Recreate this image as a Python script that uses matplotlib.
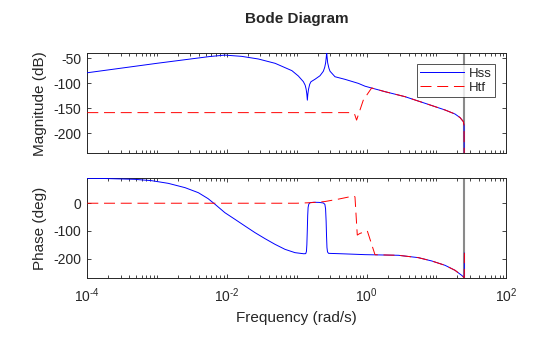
import matplotlib
matplotlib.use("Agg")
import matplotlib.pyplot as plt
from matplotlib.lines import Line2D
from matplotlib.ticker import FixedLocator, LogLocator, NullFormatter, FixedFormatter

plt.rcParams['font.family'] = ['Liberation Sans', 'DejaVu Sans']
plt.rcParams['mathtext.fontset'] = 'custom'
plt.rcParams['mathtext.rm'] = 'Liberation Sans'
plt.rcParams['mathtext.it'] = 'Liberation Sans:italic'
plt.rcParams['mathtext.bf'] = 'Liberation Sans:bold'
plt.rcParams['axes.unicode_minus'] = False

# ---- data (frequency in rad/s) ----
hss_mag_w = [1e-4, 3.162e-4, 1e-3, 3.162e-3, 5.623e-3, 9.333e-3, 1.622e-2, 2.818e-2,
             4.898e-2, 8.511e-2, 0.1052, 0.1242, 0.1318, 0.1361, 0.1393, 0.1416,
             0.1439, 0.1472, 0.1531, 0.1596, 0.1824, 0.2148, 0.2399, 0.2512, 0.2588,
             0.2642, 0.2679, 0.2716, 0.2767, 0.2884, 0.2992, 0.3524, 0.4898, 0.7603,
             0.9484, 1.837, 3.548, 6.871, 13.27, 18.45, 21.78, 24.27, 24.83, 25.13]
hss_mag_db = [-79, -69.5, -60, -51, -46.5, -43.6, -46.1, -51.4,
              -60.1, -74.8, -85.5, -96.9, -104, -112, -122, -134,
              -122, -112, -102, -97, -92, -85, -76, -68, -59,
              -48, -38, -48, -59, -70, -76, -87, -92.2, -100.3,
              -106, -117, -127, -140.3, -153.7, -161.8, -169, -177, -185, -320]

hss_ph_w = [1e-4, 1.778e-4, 4.786e-4, 8.318e-4, 1.445e-3, 2.512e-3, 3.890e-3, 5.370e-3,
            6.761e-3, 9.333e-3, 1.303e-2, 1.811e-2, 2.523e-2, 3.508e-2, 4.875e-2,
            6.776e-2, 9.419e-2, 0.1259, 0.1343, 0.1374, 0.1393, 0.1413, 0.1432, 0.1452,
            0.1486, 0.1549, 0.1738, 0.2089, 0.2399, 0.2523, 0.2582, 0.2630, 0.2667,
            0.2704, 0.2754, 0.2851, 0.4365, 0.9484, 2.844, 5.495, 8.551, 13.27, 18.45,
            22.96, 25.0, 25.13]
hss_ph_deg = [89.8, 89.3, 86.3, 81.5, 71.8, 56.2, 38.1, 16.5,
              -4.0, -34.1, -58.2, -82.3, -106.3, -128.0, -148.4,
              -166.5, -178.5, -182.5, -182, -174, -150, -100, -45, -15,
              -3, 2, 3.5, 3, 1, -4, -20, -65, -120,
              -160, -176, -181, -182.5, -185.7, -188, -196.5, -208.5, -224.2, -242.3,
              -260.4, -269, -180]

htf_mag_w = [1e-4, 0.6109, 0.6761, 0.7178, 0.8954, 1.072, 1.180, 1.837, 3.548,
             6.871, 13.27, 18.45, 21.78, 24.27, 24.83, 25.13]
htf_mag_db = [-159, -159, -163, -174, -134, -118, -109.5, -117, -127,
              -140.3, -153.7, -161.8, -169, -177, -185, -320]

htf_ph_w = [1e-4, 0.1, 0.1585, 0.2512, 0.3981, 0.6457, 0.6808, 0.7345, 0.8035,
            1.023, 1.318, 2.844, 5.495, 8.551, 13.27, 18.45, 22.96, 25.0, 25.13]
htf_ph_deg = [0, 0, 2, 6, 15, 26, 23, -115, -109,
              -100, -186, -188, -196.5, -208.5, -224.2, -242.3, -260.4, -269, -180]

nyquist_w = 25.13
xticks = [1e-4, 1e-2, 1e0, 1e2]
xticklabels = [r'$\mathdefault{10^{\text{-4}}}$', r'$\mathdefault{10^{\text{-2}}}$',
               r'$\mathdefault{10^{0}}$', r'$\mathdefault{10^{2}}$']
mag_ticks = [-200, -150, -100, -50]
ph_ticks = [-200, -100, 0]

TXT = '#262626'
BLUE = '#0000ff'
RED = '#ff0000'
DASH = (0, (11.3, 5.9))

fig = plt.figure(figsize=(5.6, 3.37), dpi=100)
ax1 = fig.add_axes([0.1559, 0.5460, 0.7482, 0.2958])
ax2 = fig.add_axes([0.1559, 0.1751, 0.7482, 0.2958])

for ax in (ax1, ax2):
    ax.set_xscale('log')
    ax.set_xlim(1e-4, 1e2)
    ax.axvline(nyquist_w, color='#8a8a8a', lw=1.5, zorder=1)
    ax.xaxis.set_major_locator(FixedLocator(xticks))
    ax.xaxis.set_minor_locator(LogLocator(base=10, subs=range(1, 10), numticks=100))
    ax.xaxis.set_minor_formatter(NullFormatter())
    ax.tick_params(which='both', direction='in', top=True, right=True,
                   colors=TXT, labelsize=10, width=0.6)
    ax.tick_params(which='major', length=3.2, pad=4.5)
    ax.tick_params(which='minor', length=2.0)
    for s in ax.spines.values():
        s.set_color(TXT)
        s.set_linewidth(0.7)

ax1.plot(hss_mag_w, hss_mag_db, color=BLUE, lw=0.7, zorder=3)
ax1.plot(htf_mag_w, htf_mag_db, color=RED, lw=0.7, linestyle=DASH, zorder=4)
ax1.set_ylim(-240, -40)
ax1.set_yticks(mag_ticks)
ax1.set_xticklabels([])
ax1.set_ylabel('Magnitude (dB)', fontsize=11, color=TXT)
ax1.yaxis.set_label_coords(-0.0957, 0.5)

ax2.plot(hss_ph_w, hss_ph_deg, color=BLUE, lw=0.7, zorder=3)
ax2.plot(htf_ph_w, htf_ph_deg, color=RED, lw=0.7, linestyle=DASH, zorder=4)
ax2.set_ylim(-270, 90)
ax2.set_yticks(ph_ticks)
ax2.xaxis.set_major_formatter(FixedFormatter(xticklabels))
ax2.tick_params(axis='x', which='major', pad=6)
ax2.set_ylabel('Phase (deg)', fontsize=11, color=TXT)
ax2.yaxis.set_label_coords(-0.0957, 0.5)
ax2.set_xlabel('Frequency (rad/s)', fontsize=11, color=TXT)
ax2.xaxis.set_label_coords(0.5, -0.33)

handles = [Line2D([], [], color=BLUE, lw=0.7),
           Line2D([], [], color=RED, lw=0.7, linestyle=DASH)]
leg = ax1.legend(handles, ['Hss', 'Htf'], loc='upper right',
                 bbox_to_anchor=(0.973, 0.890), borderaxespad=0, fontsize=9.5,
                 frameon=True, fancybox=False, handlelength=3.3, handletextpad=0.4,
                 labelspacing=0.15, borderpad=0.25, labelcolor=TXT)
leg.get_frame().set_edgecolor(TXT)
leg.get_frame().set_linewidth(0.7)

fig.text(0.530, 0.944, 'Bode Diagram', ha='center', va='center',
         fontsize=11, fontweight='bold', color=TXT)

fig.savefig('out.png', dpi=100)
